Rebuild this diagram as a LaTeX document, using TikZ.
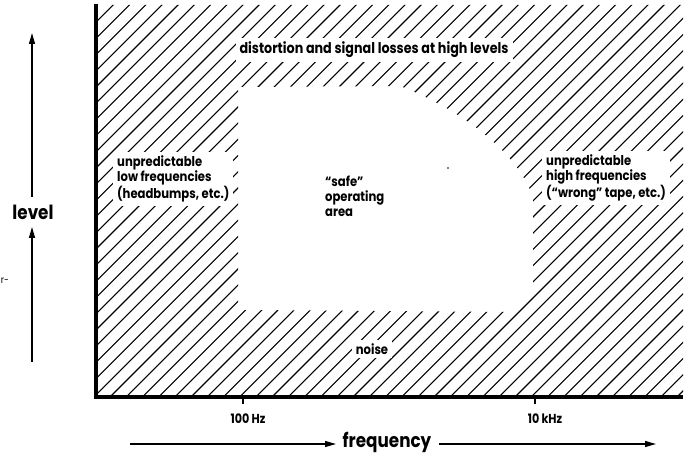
\documentclass[tikz,border=0pt]{standalone}
\usepackage{fontspec}
\setmainfont[FakeStretch=0.86]{Poppins}
\usetikzlibrary{arrows.meta}
\tikzset{
  hatch/.style={line width=1.1pt},
  axisline/.style={line width=3.6pt, line join=miter},
  tickline/.style={line width=1.1pt},
  lvarrow/.style={line width=1.3pt, -{Triangle[length=11pt,width=6pt]}},
  lbl/.style={font=\fontsize{13.5}{15}\selectfont\bfseries, align=left, inner sep=4pt},
  hlbl/.style={lbl, fill=white},
  big/.style={font=\fontsize{19.5}{21}\selectfont\bfseries, inner sep=1pt},
  ticklbl/.style={font=\fontsize{13}{14}\selectfont\bfseries, inner sep=1pt}
}
\begin{document}
\begin{tikzpicture}[x=1pt,y=-1pt]
\useasboundingbox (0,0) rectangle (690,454);
% hatched region
\begin{scope}[even odd rule]
  \clip (96,5) rectangle (683,397)
    (238,87) -- (400,86) .. controls (472,114) and (522,160) .. (533,198)
    -- (533,290) -- (511,312) -- (245,310) -- (238,303) -- cycle;
  \foreach \k in {0,...,66}{
    \pgfmathsetmacro{\c}{-314.2+16.2*\k}
    \draw[hatch] (\c,400) -- ++(430,-430);
  }
\end{scope}
% axes
\coordinate (ytop) at (96,4);
\coordinate (origin) at (96,397);
\coordinate (xend) at (683,397);
\draw[axisline] (ytop) -- (origin) -- (xend);
% ticks
\coordinate (t1a) at (243,397); \coordinate (t1b) at (243,404);
\coordinate (t2a) at (535,397); \coordinate (t2b) at (535,404);
\draw[tickline] (t1a) -- (t1b);
\draw[tickline] (t2a) -- (t2b);
\node[ticklbl] (f100) at (248,419) {100\,Hz};
\node[ticklbl] (f10k) at (545,419) {10\,kHz};
% labels in hatched area
\node[hlbl, font=\fontsize{14.8}{15}\selectfont\bfseries] (dist) at (374,50) {distortion and signal losses at high levels};
\node[hlbl, anchor=west] (lowf) at (113,179) {unpredictable\\low frequencies\\(headbumps, etc.)};
\node[hlbl, anchor=west] (highf) at (542,178) {unpredictable\\high frequencies\\(“wrong” tape, etc.)};
\node[hlbl] (noise) at (372,349) {noise};
\node[lbl, anchor=west] (safe) at (321,196) {“safe”\\operating\\area};
% level axis label
\node[big] (level) at (33,212) {level};
\coordinate (lvA0) at (32,197); \coordinate (lvA1) at (32,33);
\coordinate (lvB0) at (32,362); \coordinate (lvB1) at (32,227);
\draw[lvarrow] (lvA0) -- (lvA1);
\draw[lvarrow] (lvB0) -- (lvB1);
% frequency axis label
\node[big] (freq) at (387,442) {frequency};
\coordinate (fqA0) at (130,444); \coordinate (fqA1) at (336,444);
\coordinate (fqB0) at (439,444); \coordinate (fqB1) at (656,444);
\draw[lvarrow] (fqA0) -- (fqA1);
\draw[lvarrow] (fqB0) -- (fqB1);
% stray marks
\node[font=\fontsize{10}{12}\selectfont, inner sep=0pt, anchor=east] (stray) at (9,281) {r-};
\fill (448,168) circle (0.8);
\end{tikzpicture}
\end{document}
